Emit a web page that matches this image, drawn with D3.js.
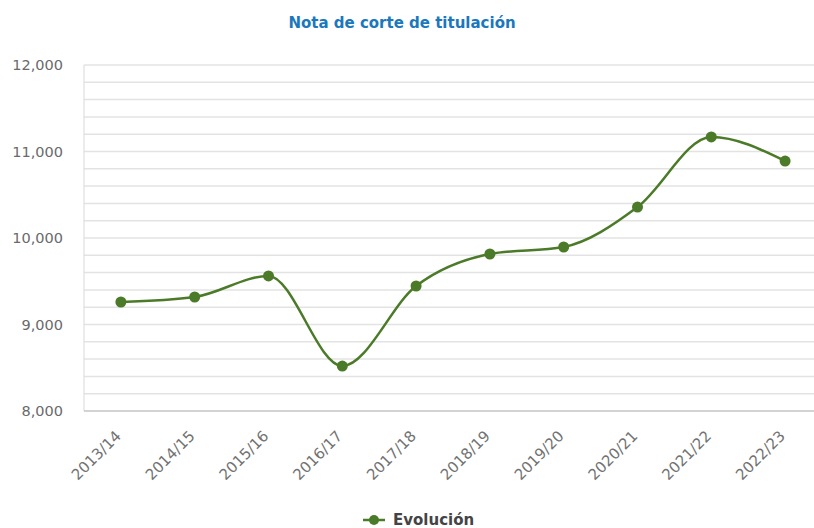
<!DOCTYPE html>
<html>
<head>
<meta charset="utf-8">
<script src="https://cdn.jsdelivr.net/npm/d3@7"></script>
<style>
  body { margin: 0; background: #fff; }
  text { font-family: "DejaVu Sans", sans-serif; }
</style>
</head>
<body>
<script>
var width = 814;
var height = 528;

// data
var cursos = ["2013/14", "2014/15", "2015/16", "2016/17", "2017/18",
              "2018/19", "2019/20", "2020/21", "2021/22", "2022/23"];
var notas = [9260, 9318, 9561, 8520, 9445, 9815, 9896, 10358, 11168, 10890];
var yTicks = [8000, 9000, 10000, 11000, 12000];

var plotLeft = 84, plotRight = 822, plotTop = 65, plotBottom = 411;
var green = "#4b7a28";

var svg = d3.select("body").append("svg")
    .attr("width", width)
    .attr("height", height);

var x = d3.scaleBand().domain(cursos).range([plotLeft, plotRight]);
var y = d3.scaleLinear().domain([8000, 12000]).range([plotBottom, plotTop]);

// gridlines every 200
svg.append("g")
    .selectAll("line")
    .data(d3.range(8200, 12001, 200))
    .enter().append("line")
    .attr("x1", plotLeft)
    .attr("x2", width)
    .attr("y1", function(d) { return y(d); })
    .attr("y2", function(d) { return y(d); })
    .attr("stroke", "#e3e3e3")
    .attr("stroke-width", 1.5);

// vertical axis line
svg.append("line")
    .attr("x1", plotLeft).attr("x2", plotLeft)
    .attr("y1", plotTop).attr("y2", plotBottom)
    .attr("stroke", "#d9d9d9")
    .attr("stroke-width", 1);

// horizontal axis line
svg.append("line")
    .attr("x1", plotLeft).attr("x2", width)
    .attr("y1", plotBottom).attr("y2", plotBottom)
    .attr("stroke", "#c4c4c4")
    .attr("stroke-width", 1.5);

// y labels
var fmt = d3.format(",");
svg.append("g")
    .selectAll("text")
    .data(yTicks)
    .enter().append("text")
    .attr("x", 63)
    .attr("y", function(d) { return y(d); })
    .attr("dy", "0.35em")
    .attr("text-anchor", "end")
    .attr("font-size", 14.5)
    .attr("fill", "#6a6a6a")
    .text(function(d) { return fmt(d); });

// x labels
svg.append("g")
    .selectAll("text")
    .data(cursos)
    .enter().append("text")
    .attr("transform", function(d) {
        return "translate(" + (x(d) + x.bandwidth() / 2 + 1) + "," + (plotBottom + 26) + ") rotate(-45)";
    })
    .attr("text-anchor", "end")
    .attr("font-size", 15)
    .attr("fill", "#727272")
    .text(function(d) { return d; });

// line
var line = d3.line()
    .x(function(d, i) { return x(cursos[i]) + x.bandwidth() / 2; })
    .y(function(d) { return y(d); })
    .curve(d3.curveMonotoneX);

svg.append("path")
    .datum(notas)
    .attr("d", line)
    .attr("fill", "none")
    .attr("stroke", green)
    .attr("stroke-width", 2.5);

svg.append("g")
    .selectAll("circle")
    .data(notas)
    .enter().append("circle")
    .attr("cx", function(d, i) { return x(cursos[i]) + x.bandwidth() / 2; })
    .attr("cy", function(d) { return y(d); })
    .attr("r", 5.5)
    .attr("fill", green);

// title
svg.append("text")
    .attr("x", 402)
    .attr("y", 28)
    .attr("text-anchor", "middle")
    .attr("font-size", 15)
    .attr("font-weight", "bold")
    .attr("fill", "#1b78bd")
    .text("Nota de corte de titulación");

// legend
var lg = svg.append("g").attr("transform", "translate(363,520)");
lg.append("line")
    .attr("x1", 0).attr("x2", 22)
    .attr("stroke", green)
    .attr("stroke-width", 2.5);
lg.append("circle")
    .attr("cx", 11).attr("r", 5)
    .attr("fill", green);
lg.append("text")
    .attr("x", 30)
    .attr("dy", "0.35em")
    .attr("font-size", 15)
    .attr("font-weight", "bold")
    .attr("fill", "#444")
    .text("Evolución");
</script>
</body>
</html>
